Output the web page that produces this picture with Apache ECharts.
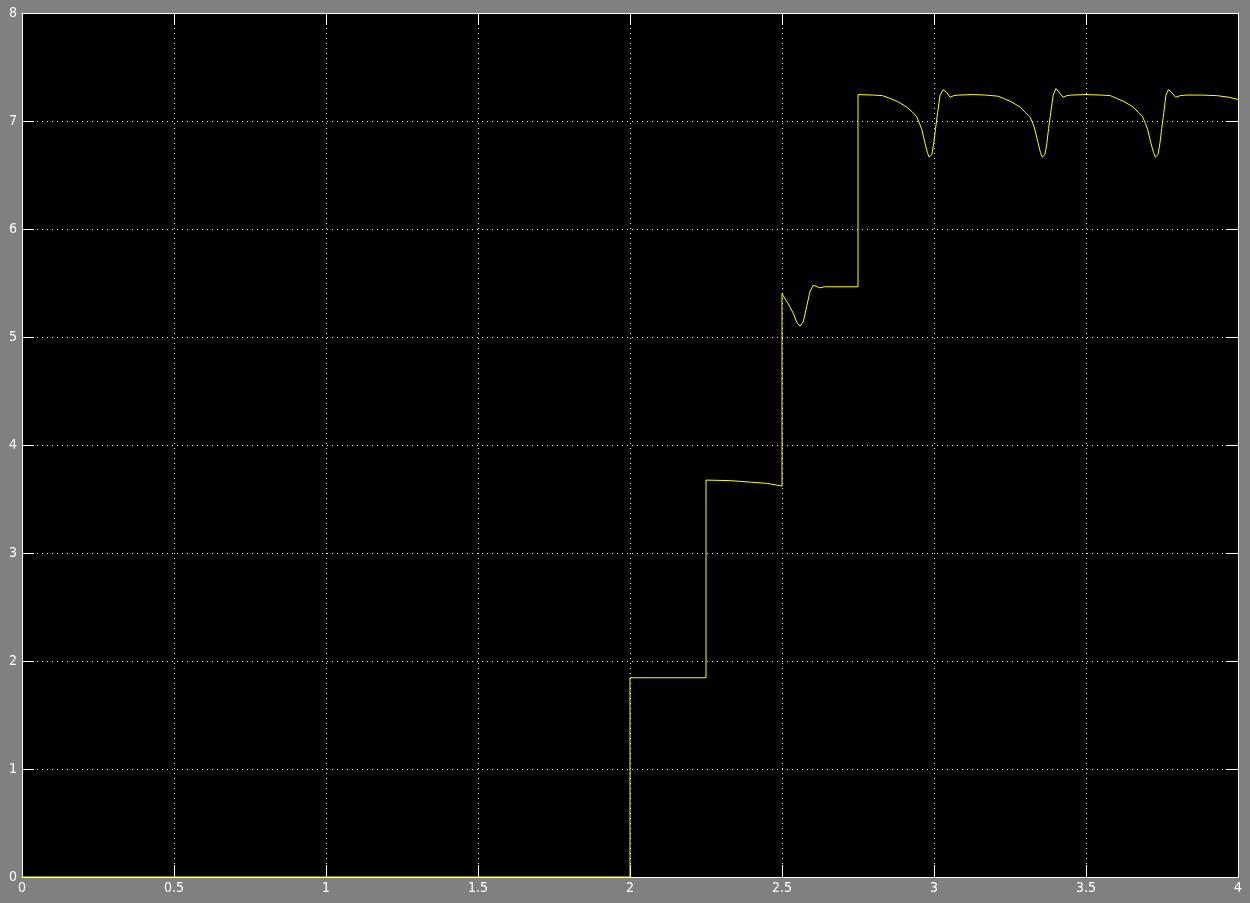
<!DOCTYPE html>
<html>
<head>
<meta charset="utf-8">
<script src="https://cdn.jsdelivr.net/npm/echarts@6/dist/echarts.min.js"></script>
<style>
html,body{margin:0;padding:0;background:#808080;}
#chart{width:1250px;height:903px;}
</style>
</head>
<body>
<div id="chart"></div>
<script>
// time (s) and signal values
var time = [
  0, 2.0, 2.0, 2.25, 2.25, 2.33, 2.40, 2.45, 2.48, 2.5,
  2.5, 2.505, 2.52, 2.537, 2.548, 2.559, 2.57, 2.581, 2.592, 2.603, 2.612, 2.625, 2.64, 2.70, 2.75,
  2.75, 2.80, 2.83, 2.855, 2.88, 2.91, 2.93, 2.943, 2.952, 2.96, 2.97, 2.978, 2.984, 2.988, 2.993, 2.999, 3.005, 3.012, 3.02, 3.03, 3.04, 3.053, 3.065, 3.08, 3.13,
  3.17, 3.21, 3.228, 3.253, 3.283, 3.30, 3.315, 3.325, 3.332, 3.342, 3.35, 3.356, 3.360, 3.365, 3.371, 3.377, 3.384, 3.392, 3.401, 3.41, 3.425, 3.437, 3.45, 3.50, 3.55,
  3.58, 3.60, 3.625, 3.655, 3.672, 3.686, 3.695, 3.703, 3.713, 3.722, 3.728, 3.732, 3.737, 3.743, 3.749, 3.756, 3.763, 3.771, 3.78, 3.795, 3.81, 3.83, 3.88, 3.93, 3.97, 4.0
];
var signal = [
  0, 0, 1.845, 1.845, 3.675, 3.67, 3.655, 3.645, 3.63, 3.62,
  5.40, 5.39, 5.31, 5.22, 5.14, 5.10, 5.14, 5.28, 5.42, 5.48, 5.47, 5.455, 5.465, 5.465, 5.465,
  7.245, 7.24, 7.235, 7.21, 7.18, 7.13, 7.08, 7.04, 6.98, 6.92, 6.80, 6.71, 6.665, 6.655, 6.69, 6.79, 6.93, 7.08, 7.24, 7.29, 7.27, 7.22, 7.235, 7.24, 7.245,
  7.24, 7.23, 7.21, 7.18, 7.13, 7.08, 7.04, 6.98, 6.92, 6.80, 6.71, 6.665, 6.655, 6.69, 6.79, 6.93, 7.08, 7.24, 7.30, 7.27, 7.22, 7.235, 7.24, 7.245, 7.24,
  7.235, 7.21, 7.18, 7.13, 7.08, 7.04, 6.98, 6.92, 6.80, 6.71, 6.665, 6.655, 6.69, 6.79, 6.93, 7.08, 7.24, 7.29, 7.27, 7.22, 7.235, 7.24, 7.24, 7.235, 7.22, 7.20
];
var xTicks = [0, 0.5, 1, 1.5, 2, 2.5, 3, 3.5, 4];
var yTicks = [0, 1, 2, 3, 4, 5, 6, 7, 8];

var seriesData = time.map(function (t, i) { return [t, signal[i]]; });

var fontFam = "'Liberation Sans Narrow', 'DejaVu Sans Condensed', 'Liberation Sans', sans-serif";
var white = '#ffffff';

function xAx(pos, labels) {
  return {
    type: 'value', position: pos, min: xTicks[0], max: xTicks[xTicks.length - 1],
    interval: xTicks[1] - xTicks[0],
    axisLine: { show: true, onZero: false, lineStyle: { color: white, width: 1 } },
    axisTick: { show: true, inside: true, length: 12, lineStyle: { color: white, width: 1 } },
    axisLabel: { show: labels, color: white, fontSize: 14, fontFamily: fontFam, margin: 4 },
    splitLine: { show: labels, lineStyle: { color: white, width: 1, type: [1, 4] } }
  };
}
function yAx(pos, labels) {
  return {
    type: 'value', position: pos, min: yTicks[0], max: yTicks[yTicks.length - 1],
    interval: yTicks[1] - yTicks[0],
    axisLine: { show: true, onZero: false, lineStyle: { color: white, width: 1 } },
    axisTick: { show: true, inside: true, length: 12, lineStyle: { color: white, width: 1 } },
    axisLabel: { show: labels, color: white, fontSize: 14, fontFamily: fontFam, margin: 5 },
    splitLine: { show: labels, lineStyle: { color: white, width: 1, type: [1, 4] } }
  };
}

var chart = echarts.init(document.getElementById('chart'), null, { renderer: 'canvas' });
chart.setOption({
  backgroundColor: '#808080',
  animation: false,
  grid: { left: 22, right: 12, top: 13, bottom: 26, show: true, backgroundColor: '#000000', borderWidth: 0 },
  xAxis: [xAx('bottom', true), xAx('top', false)],
  yAxis: [yAx('left', true), yAx('right', false)],
  series: [{
    type: 'line',
    data: seriesData,
    xAxisIndex: 0, yAxisIndex: 0,
    showSymbol: false,
    symbol: 'none',
    z: 5,
    lineStyle: { color: '#ffff00', width: 1 }
  }]
});
</script>
</body>
</html>
